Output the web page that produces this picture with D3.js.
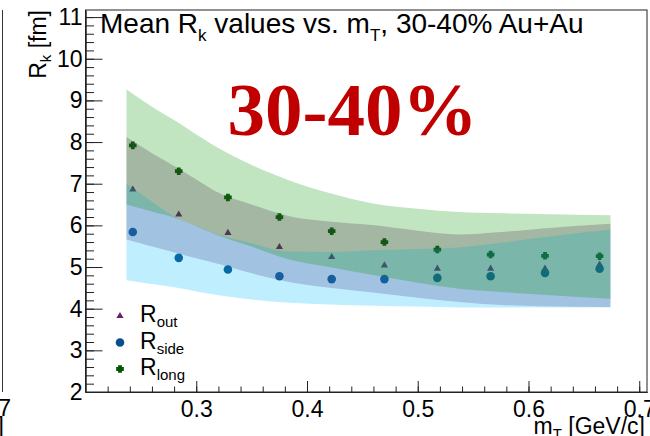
<!DOCTYPE html>
<html lang="en">
<head>
<meta charset="UTF-8" />
<title>Mean Rk values vs. mT, 30-40% Au+Au</title>
<script src="https://d3js.org/d3.v7.min.js"></script>
<style>
  body { margin: 0; background: #fff; }
  svg { display: block; font-family: "Liberation Sans", Arial, Helvetica, sans-serif; }
</style>
</head>
<body>
<svg width="650" height="436"></svg>
<script>
// measured radii (fm) at each mT bin (GeV/c)
const mT    = [0.2427, 0.2842, 0.3286, 0.3751, 0.4223, 0.4699, 0.5177, 0.5658, 0.6149, 0.6642];
const rOut  = [6.86, 6.26, 5.82, 5.48, 5.24, 5.04, 4.96, 4.96, 4.96, 5.06];
const rSide = [5.84, 5.22, 4.94, 4.78, 4.71, 4.71, 4.74, 4.78, 4.86, 4.96];
const rLong = [7.92, 7.30, 6.67, 6.20, 5.86, 5.60, 5.42, 5.30, 5.27, 5.26];

// bands (lower / upper edge) sampled on their own mT grid
const bandX   = [0.237, 0.26, 0.283, 0.30, 0.316, 0.35, 0.384, 0.42, 0.461, 0.50, 0.537, 0.575, 0.61, 0.674];
const outLo   = [5.66, 5.49, 5.33, 5.21, 5.10, 4.85, 4.64, 4.50, 4.38, 4.26, 4.16, 4.09, 4.06, 4.04];
const outHi   = [8.12, 7.73, 7.38, 7.10, 6.84, 6.50, 6.22, 6.09, 6.00, 5.87, 5.78, 5.84, 5.92, 6.04];
const sideLo  = [4.68, 4.59, 4.50, 4.41, 4.34, 4.22, 4.14, 4.10, 4.07, 4.05, 4.03, 4.03, 4.03, 4.03];
const sideHi  = [7.00, 6.57, 6.17, 5.99, 5.81, 5.57, 5.37, 5.36, 5.40, 5.43, 5.47, 5.58, 5.70, 5.90];
const longLo  = [6.50, 6.33, 6.16, 5.98, 5.80, 5.49, 5.18, 5.00, 4.80, 4.62, 4.48, 4.40, 4.34, 4.24];
const longHi  = [9.26, 8.85, 8.48, 8.18, 7.92, 7.45, 7.08, 6.78, 6.52, 6.40, 6.32, 6.29, 6.27, 6.24];

const xTicks = [0.3, 0.4, 0.5, 0.6, 0.7];
const yTicks = [2, 3, 4, 5, 6, 7, 8, 9, 10, 11];

const svg = d3.select("svg");
const padL = 85.5, padR = 647, padT = 10, padB = 392;

const x = d3.scaleLinear().domain([0.2, 0.707]).range([padL, padR]);
const y = d3.scaleLinear().domain([2, 11.17]).range([padB, padT]);

// left neighbour panel remains
svg.append("line").attr("x1", 2.5).attr("x2", 2.5).attr("y1", 10).attr("y2", 392)
  .attr("stroke", "#333");
svg.append("text").attr("x", 11).attr("y", 416).attr("text-anchor", "end")
  .attr("font-size", 23).text("0.7");
svg.append("text").attr("x", 4).attr("y", 434).attr("text-anchor", "end")
  .attr("font-size", 23).text("c]");

const plot = svg.append("g");

// markers first, the bands are laid over them
const outCol = "#6e1a6e", sideCol = "#084e8c", longCol = "#005500";

plot.selectAll("path.out").data(mT).enter().append("path")
  .attr("transform", (d, i) => `translate(${x(d)},${y(rOut[i])})`)
  .attr("d", d3.symbol(d3.symbolTriangle, 22))
  .attr("fill", outCol);

plot.selectAll("circle.side").data(mT).enter().append("circle")
  .attr("cx", d => x(d))
  .attr("cy", (d, i) => y(rSide[i]))
  .attr("r", 4.3)
  .attr("fill", sideCol);

plot.selectAll("path.long").data(mT).enter().append("path")
  .attr("transform", (d, i) => `translate(${x(d)},${y(rLong[i])})`)
  .attr("d", d3.symbol(d3.symbolCross, 18))
  .attr("fill", "#fff")
  .attr("stroke", longCol)
  .attr("stroke-width", 1.9);

// bands
const area = d3.area()
  .x(d => x(d.x))
  .y0(d => y(d.lo))
  .y1(d => y(d.hi))
  .curve(d3.curveMonotoneX);

const bands = [
  { lo: outLo,  hi: outHi,  color: "#601060" },
  { lo: sideLo, hi: sideHi, color: "#00bfff" },
  { lo: longLo, hi: longHi, color: "#089408" }
];

bands.forEach(b => {
  const rows = bandX.map((v, i) => ({ x: v, lo: b.lo[i], hi: b.hi[i] }));
  plot.append("path")
    .attr("d", area(rows))
    .attr("fill", b.color)
    .attr("fill-opacity", 0.25);
});

// axes (ticks inside, like ROOT)
const xMinor = d3.range(0.22, 0.707, 0.02);
svg.append("g")
  .attr("transform", `translate(0,${padB})`)
  .call(d3.axisBottom(x).tickValues(xMinor).tickSize(-5.5).tickSizeOuter(0).tickFormat(""));
svg.append("g")
  .attr("transform", `translate(0,${padB})`)
  .call(d3.axisBottom(x).tickValues(xTicks).tickSize(-11).tickSizeOuter(0)
    .tickPadding(8.5).tickFormat(d3.format(".1f")))
  .call(g => g.selectAll("text").attr("font-size", 23).attr("fill", "#000")
    .attr("font-family", "Liberation Sans, Arial, sans-serif"));

const yMinor = d3.range(2.2, 11.17, 0.2);
svg.append("g")
  .attr("transform", `translate(${padL},0)`)
  .call(d3.axisLeft(y).tickValues(yMinor).tickSize(-8.5).tickSizeOuter(0).tickFormat(""));
svg.append("g")
  .attr("transform", `translate(${padL},0)`)
  .call(d3.axisLeft(y).tickValues(yTicks).tickSize(-17).tickSizeOuter(0).tickPadding(3))
  .call(g => g.selectAll("text").attr("font-size", 23).attr("fill", "#000")
    .attr("font-family", "Liberation Sans, Arial, sans-serif"));

svg.selectAll(".domain").attr("stroke", "#222");
svg.selectAll(".tick line").attr("stroke", "#222");

// frame
svg.append("rect")
  .attr("x", padL).attr("y", padT)
  .attr("width", padR - padL).attr("height", padB - padT)
  .attr("fill", "none").attr("stroke", "#222");

// title
const title = svg.append("text").attr("x", 100).attr("y", 33).attr("font-size", 28);
title.append("tspan").text("Mean R");
title.append("tspan").attr("font-size", 17).attr("dy", 8).text("k");
title.append("tspan").attr("dy", -8).text(" values vs. m");
title.append("tspan").attr("font-size", 17).attr("dy", 8).text("T");
title.append("tspan").attr("dy", -8).text(", 30-40% Au+Au");

// big label
svg.append("text")
  .attr("x", 352.5).attr("y", 135)
  .attr("text-anchor", "middle")
  .attr("font-family", "Liberation Serif, Times New Roman, serif")
  .attr("font-weight", "bold")
  .attr("font-size", 75)
  .attr("fill", "#c00000")
  .text("30-40%");

// axis titles
const yTitle = svg.append("text")
  .attr("transform", "translate(46,10) rotate(-90)")
  .attr("text-anchor", "end")
  .attr("font-size", 23);
yTitle.append("tspan").text("R");
yTitle.append("tspan").attr("font-size", 15).attr("dy", 5).text("k");
yTitle.append("tspan").attr("dy", -5).text(" [fm]");

const xTitle = svg.append("text")
  .attr("x", 645).attr("y", 434)
  .attr("text-anchor", "end")
  .attr("font-size", 23);
xTitle.append("tspan").text("m");
xTitle.append("tspan").attr("font-size", 15).attr("dy", 5).text("T");
xTitle.append("tspan").attr("dy", -5).text(" [GeV/c]");

// legend
const legendItems = [
  { sub: "out",  kind: "tri" },
  { sub: "side", kind: "circ" },
  { sub: "long", kind: "cross" }
];
const leg = svg.append("g");
legendItems.forEach((d, i) => {
  const cy = 316 + i * 26.5;
  if (d.kind === "tri") {
    leg.append("path").attr("transform", `translate(120,${cy})`)
      .attr("d", d3.symbol(d3.symbolTriangle, 22)).attr("fill", outCol);
  } else if (d.kind === "circ") {
    leg.append("circle").attr("cx", 120).attr("cy", cy).attr("r", 4.3).attr("fill", sideCol);
  } else {
    leg.append("path").attr("transform", `translate(120,${cy})`)
      .attr("d", d3.symbol(d3.symbolCross, 18))
      .attr("fill", "#fff").attr("stroke", longCol).attr("stroke-width", 1.9);
  }
  const t = leg.append("text").attr("x", 140).attr("y", cy + 6).attr("font-size", 23);
  t.append("tspan").text("R");
  t.append("tspan").attr("font-size", 15).attr("dy", 5).text(d.sub);
});
</script>
</body>
</html>
